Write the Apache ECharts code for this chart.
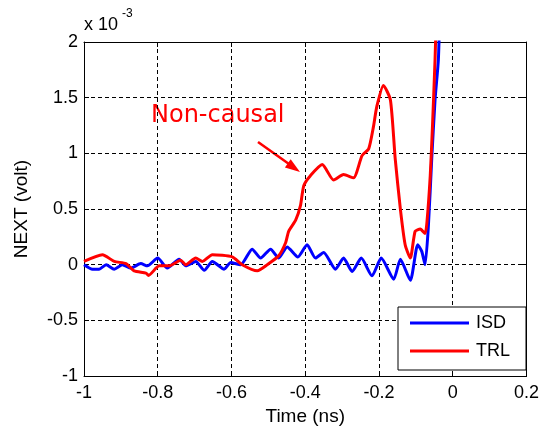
<!DOCTYPE html>
<html>
<head>
<meta charset="utf-8">
<script src="https://cdn.jsdelivr.net/npm/echarts@6/dist/echarts.min.js"></script>
<style>
  html, body { margin: 0; padding: 0; background: #fff; }
  #chart { width: 542px; height: 431px; }
</style>
</head>
<body>
<div id="chart"></div>
<script>
// values in units of 1e-3 volt
const isdTime = [-1.0, -0.977, -0.959, -0.94, -0.918, -0.896, -0.873, -0.846, -0.828, -0.80, -0.774, -0.742, -0.724, -0.697, -0.674, -0.652, -0.62, -0.602, -0.575, -0.544, -0.521, -0.494, -0.472, -0.449, -0.42, -0.395, -0.372, -0.35, -0.318, -0.296, -0.273, -0.248, -0.219, -0.194, -0.16, -0.142, -0.115, -0.095, -0.084, -0.075, -0.066, -0.057, -0.048, -0.039, -0.035];
const isdValue = [0.0, -0.04, -0.04, 0.0, -0.04, 0.0, -0.03, 0.01, -0.01, 0.06, -0.03, 0.05, -0.01, 0.03, -0.05, 0.03, -0.04, 0.02, 0.0, 0.14, 0.06, 0.14, 0.06, 0.16, 0.07, 0.18, 0.06, 0.11, -0.04, 0.06, -0.06, 0.06, -0.10, 0.06, -0.13, 0.05, -0.14, 0.18, 0.12, 0.0, 0.35, 0.95, 1.48, 1.84, 2.3];

const trlTime = [-1.0, -0.95, -0.918, -0.886, -0.864, -0.832, -0.825, -0.796, -0.769, -0.738, -0.724, -0.697, -0.679, -0.652, -0.598, -0.571, -0.53, -0.503, -0.472, -0.453, -0.445, -0.426, -0.413, -0.404, -0.386, -0.354, -0.323, -0.296, -0.269, -0.246, -0.228, -0.215, -0.206, -0.188, -0.169, -0.156, -0.142, -0.129, -0.115, -0.102, -0.088, -0.075, -0.07, -0.061, -0.055, -0.048, -0.044];
const trlValue = [0.03, 0.09, 0.03, 0.01, -0.055, -0.075, -0.096, -0.01, -0.01, 0.04, 0.0, 0.06, 0.03, 0.09, 0.07, 0.0, -0.055, 0.0, 0.08, 0.2, 0.3, 0.4, 0.53, 0.71, 0.80, 0.90, 0.76, 0.81, 0.78, 0.98, 1.04, 1.24, 1.42, 1.61, 1.48, 0.95, 0.50, 0.18, 0.06, 0.30, 0.32, 0.28, 0.38, 0.80, 1.24, 1.84, 2.3];

const seriesNames = ['ISD', 'TRL'];
const seriesColors = ['#0000ff', '#ff0000'];

const xMin = -1, xMax = 0.2, xStep = 0.2;
const yMin = -1, yMax = 2, yStep = 0.5;

const font = 'Liberation Sans, Arial, sans-serif';

const pairs = (xs, ys) => xs.map((x, i) => [x, ys[i]]);
const fmt = v => String(Math.round(v * 10) / 10);

const chart = echarts.init(document.getElementById('chart'));

const frameAxis = {
  axisLine: { show: true, onZero: false, lineStyle: { color: '#000', width: 1 } },
  axisTick: { show: true, inside: true, length: 5, lineStyle: { color: '#000' } },
  splitLine: { show: false },
  axisLabel: { show: false }
};

const option = {
  animation: false,
  backgroundColor: '#fff',
  grid: { left: 84, right: 15, top: 42, bottom: 50 },
  legend: {
    data: seriesNames,
    orient: 'vertical',
    left: 398,
    top: 307,
    padding: [7, 16, 10, 12],
    itemGap: 10,
    itemWidth: 59,
    itemHeight: 3,
    icon: 'rect',
    backgroundColor: '#fff',
    borderColor: '#000',
    borderWidth: 1,
    textStyle: { fontFamily: font, fontSize: 18, color: '#000', padding: [0, 0, 0, 2] }
  },
  xAxis: [
    {
      type: 'value', min: xMin, max: xMax, interval: xStep,
      name: 'Time (ns)', nameLocation: 'middle', nameGap: 30,
      nameTextStyle: { fontFamily: font, fontSize: 19, color: '#000' },
      axisLine: { show: true, onZero: false, lineStyle: { color: '#000', width: 1 } },
      axisTick: { show: true, inside: true, length: 5, lineStyle: { color: '#000' } },
      axisLabel: { fontFamily: font, fontSize: 18, color: '#000', margin: 8, formatter: fmt },
      splitLine: { show: true, lineStyle: { color: '#000', type: [4, 3], width: 1 } }
    },
    Object.assign({ type: 'value', min: xMin, max: xMax, interval: xStep, position: 'top' }, frameAxis)
  ],
  yAxis: [
    {
      type: 'value', min: yMin, max: yMax, interval: yStep,
      name: 'NEXT (volt)', nameLocation: 'middle', nameGap: 53, nameRotate: 90,
      nameTextStyle: { fontFamily: font, fontSize: 19, color: '#000' },
      axisLine: { show: true, onZero: false, lineStyle: { color: '#000', width: 1 } },
      axisTick: { show: true, inside: true, length: 5, lineStyle: { color: '#000' } },
      axisLabel: { fontFamily: font, fontSize: 18, color: '#000', margin: 6, formatter: fmt },
      splitLine: { show: true, lineStyle: { color: '#000', type: [4, 3], width: 1 } }
    },
    Object.assign({ type: 'value', min: yMin, max: yMax, interval: yStep, position: 'right' }, frameAxis)
  ],
  series: [
    {
      name: seriesNames[0], type: 'line', xAxisIndex: 0, yAxisIndex: 0,
      data: pairs(isdTime, isdValue),
      showSymbol: false, smooth: 0.2, clip: true,
      lineStyle: { color: seriesColors[0], width: 3 },
      itemStyle: { color: seriesColors[0] }, z: 2
    },
    {
      name: seriesNames[1], type: 'line', xAxisIndex: 0, yAxisIndex: 0,
      data: pairs(trlTime, trlValue),
      showSymbol: false, smooth: 0.2, clip: true,
      lineStyle: { color: seriesColors[1], width: 3 },
      itemStyle: { color: seriesColors[1] }, z: 3
    }
  ],
  graphic: [
    { type: 'text', left: 84, top: 16, style: { text: 'x 10', font: '18px ' + font, fill: '#000' } },
    { type: 'text', left: 122, top: 8, style: { text: '-3', font: '12px ' + font, fill: '#000' } },
    { type: 'text', left: 151, top: 104, style: { text: 'Non-causal', font: '24px DejaVu Sans, Verdana, sans-serif', fill: '#ff0000' } },
    { type: 'line', shape: { x1: 258, y1: 142, x2: 289, y2: 164 }, style: { stroke: '#ff0000', lineWidth: 2.5 } },
    { type: 'polygon', shape: { points: [[300, 172], [284.9, 167.4], [290.7, 159.2]] }, style: { fill: '#ff0000' } }
  ]
};

chart.setOption(option);
window.addEventListener('resize', () => chart.resize());
</script>
</body>
</html>
